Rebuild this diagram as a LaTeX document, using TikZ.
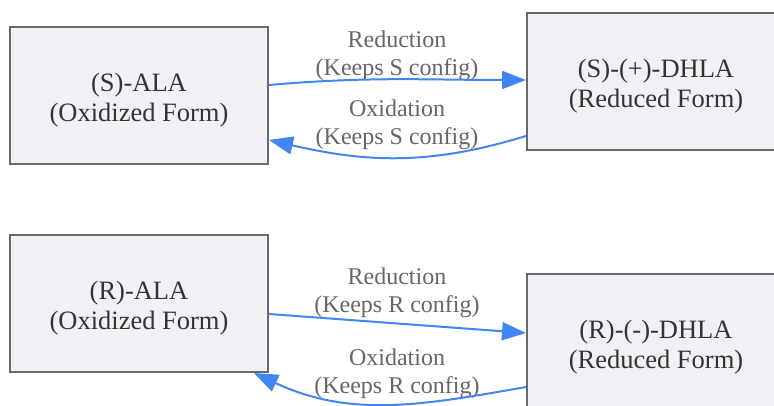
\documentclass[tikz,border=0pt]{standalone}
\usepackage{fontspec}
\setmainfont{Liberation Serif}
\usepackage{xcolor}
\usepackage{tikz}
\usetikzlibrary{arrows.meta}

\definecolor{boxfill}{HTML}{F0F1F4}
\definecolor{boxline}{HTML}{68696D}
\definecolor{flowblue}{HTML}{4285F4}
\definecolor{lblgray}{HTML}{666666}
\definecolor{txtdark}{HTML}{333333}

\begin{document}
\begin{tikzpicture}[x=1pt,y=-1pt,
    form/.style={draw=boxline, line width=2pt, fill=boxfill, minimum width=258pt,
                 minimum height=137pt, inner sep=0pt, align=center, text=txtdark,
                 text height=51.7pt, text depth=0pt,
                 font=\fontsize{26.5}{30}\selectfont},
    lbl/.style={align=center, text=lblgray, inner sep=0pt,
                font=\fontsize{24}{28}\selectfont},
    flow/.style={draw=flowblue, line width=2pt, -{Triangle[length=24pt,width=18pt]}}]
             \useasboundingbox (0,0) rectangle (774,406);
             \clip (0,0) rectangle (774,406);

             \node[form] (sala) at (139, 95.5) {(S)-ALA\\(Oxidized Form)};
             \node[form] (sdhla) at (656, 81.5) {(S)-(+)-DHLA\\(Reduced Form)};
             \node[form] (rala) at (139, 303.5) {(R)-ALA\\(Oxidized Form)};
             \node[form] (rdhla) at (656, 342.5) {(R)-(-)-DHLA\\(Reduced Form)};

             \node[lbl] (sred) at (397, 56) {Reduction\\(Keeps S config)};
             \node[lbl] (sox) at (397, 125) {Oxidation\\(Keeps S config)};
             \node[lbl] (rred) at (397, 293) {Reduction\\(Keeps R config)};
             \node[lbl] (rox) at (397, 374) {Oxidation\\(Keeps R config)};

             \draw[flow] ([yshift=10.5pt]sala.east) to[out=5, in=180] ([yshift=1.5pt]sdhla.west);
             \draw[flow] ([yshift=-54.5pt]sdhla.west) to[out=197, in=-13] ([yshift=-44.5pt]sala.east);

             \draw[flow] ([yshift=-10.5pt]rala.east) -- ([yshift=9.5pt]rdhla.west);
             \draw[flow] ([yshift=-44.5pt]rdhla.west) to[out=190, in=-25] ([xshift=-15pt]rala.south east);
\end{tikzpicture}
\end{document}
